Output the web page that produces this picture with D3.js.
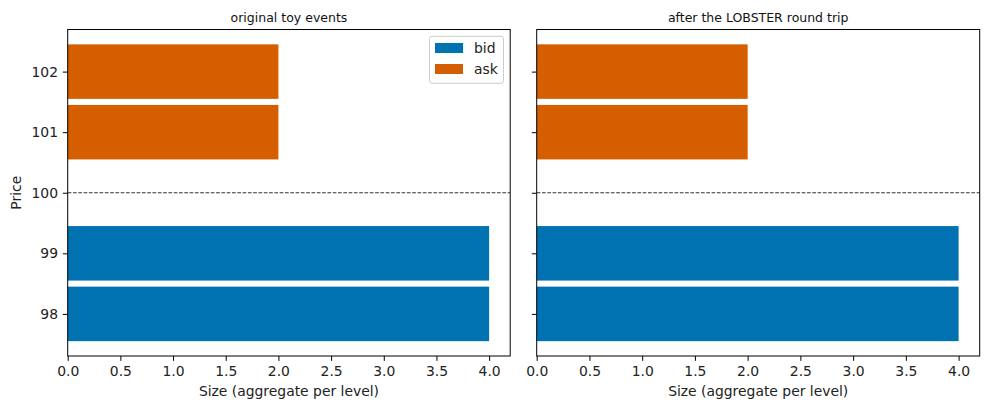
<!DOCTYPE html>
<html><head><meta charset="utf-8">
<script src="https://cdn.jsdelivr.net/npm/d3@7"></script>
<style>body{margin:0;background:#fff}svg{display:block;font-family:"DejaVu Sans",sans-serif}</style>
</head><body><svg id="c" width="990" height="410"></svg>
<script>
const panelTitles = ["original toy events", "after the LOBSTER round trip"];
const bidPrices = [98, 99];
const bidSizesOriginal = [4, 4];
const bidSizesRoundTrip = [4, 4];
const askPrices = [101, 102];
const askSizesOriginal = [2, 2];
const askSizesRoundTrip = [2, 2];
const midPrice = 100;
const xTicks = [0, 0.5, 1, 1.5, 2, 2.5, 3, 3.5, 4];
const yTicks = [98, 99, 100, 101, 102];
const bidColor = "#0072B2", askColor = "#D55E00";

const svg = d3.select("#c");
const panels = [
  {x0: 67.7, x1: 510.2, title: panelTitles[0], bid: bidSizesOriginal, ask: askSizesOriginal, ylab: true, legend: true},
  {x0: 536.7, x1: 979.7, title: panelTitles[1], bid: bidSizesRoundTrip, ask: askSizesRoundTrip, ylab: false, legend: false}
];
const plotTop = 29.5, plotBottom = 356;
const y = d3.scaleLinear().domain([97.305, 102.695]).range([plotBottom, plotTop]);
const barH = 0.9;
const tk = 4.86;

panels.forEach(p => {
  const x = d3.scaleLinear().domain([0, 4.2]).range([p.x0, p.x1]);
  const g = svg.append("g");
  const bars = [];
  bidPrices.forEach((pr, i) => bars.push({price: pr, size: p.bid[i], color: bidColor}));
  askPrices.forEach((pr, i) => bars.push({price: pr, size: p.ask[i], color: askColor}));
  g.selectAll("rect.bar").data(bars).enter().append("rect")
    .attr("x", x(0)).attr("width", d => x(d.size) - x(0))
    .attr("y", d => y(d.price + barH / 2)).attr("height", d => y(d.price - barH / 2) - y(d.price + barH / 2))
    .attr("fill", d => d.color);
  g.append("line").attr("x1", p.x0).attr("x2", p.x1).attr("y1", y(midPrice)).attr("y2", y(midPrice))
    .attr("stroke", "#333").attr("stroke-width", 1).attr("stroke-dasharray", "3.7,1.6");
  g.append("rect").attr("x", p.x0).attr("y", plotTop).attr("width", p.x1 - p.x0).attr("height", plotBottom - plotTop)
    .attr("fill", "none").attr("stroke", "#000").attr("stroke-width", 1);
  const xa = g.append("g").attr("transform", `translate(0,${plotBottom})`)
    .call(d3.axisBottom(x).tickValues(xTicks).tickFormat(d3.format(".1f")).tickSize(tk).tickPadding(tk));
  xa.select(".domain").remove();
  xa.selectAll("text").attr("font-size", 13.9).attr("fill", "#222").attr("font-family", "DejaVu Sans");
  xa.selectAll("line").attr("stroke", "#000");
  const ya = g.append("g").attr("transform", `translate(${p.x0},0)`)
    .call(d3.axisLeft(y).tickValues(yTicks).tickFormat(p.ylab ? d3.format("d") : () => "").tickSize(tk).tickPadding(tk));
  ya.select(".domain").remove();
  ya.selectAll("text").attr("font-size", 13.9).attr("fill", "#222").attr("font-family", "DejaVu Sans");
  ya.selectAll("line").attr("stroke", "#000");
  g.append("text").attr("x", (p.x0 + p.x1) / 2).attr("y", 22).attr("text-anchor", "middle")
    .attr("font-size", 12.5).attr("fill", "#111").text(p.title);
  g.append("text").attr("x", (p.x0 + p.x1) / 2).attr("y", 396).attr("text-anchor", "middle")
    .attr("font-size", 13.9).attr("fill", "#222").text("Size (aggregate per level)");
  if (p.ylab) {
    g.append("text").attr("transform", `translate(20.5,${(plotTop + plotBottom) / 2}) rotate(-90)`).attr("text-anchor", "middle")
      .attr("font-size", 13.9).attr("fill", "#222").text("Price");
  }
  if (p.legend) {
    const lg = g.append("g");
    lg.append("rect").attr("x", 429.5).attr("y", 36.3).attr("width", 74).attr("height", 47).attr("rx", 2.5)
      .attr("fill", "#fff").attr("fill-opacity", 0.8).attr("stroke", "#ccc").attr("stroke-width", 1);
    [["bid", bidColor], ["ask", askColor]].forEach((d, i) => {
      lg.append("rect").attr("x", 435).attr("y", 43 + i * 21).attr("width", 28).attr("height", 10).attr("fill", d[1]);
      lg.append("text").attr("x", 474).attr("y", 53 + i * 21).attr("font-size", 13.9).attr("fill", "#222").text(d[0]);
    });
  }
});
</script></body></html>
